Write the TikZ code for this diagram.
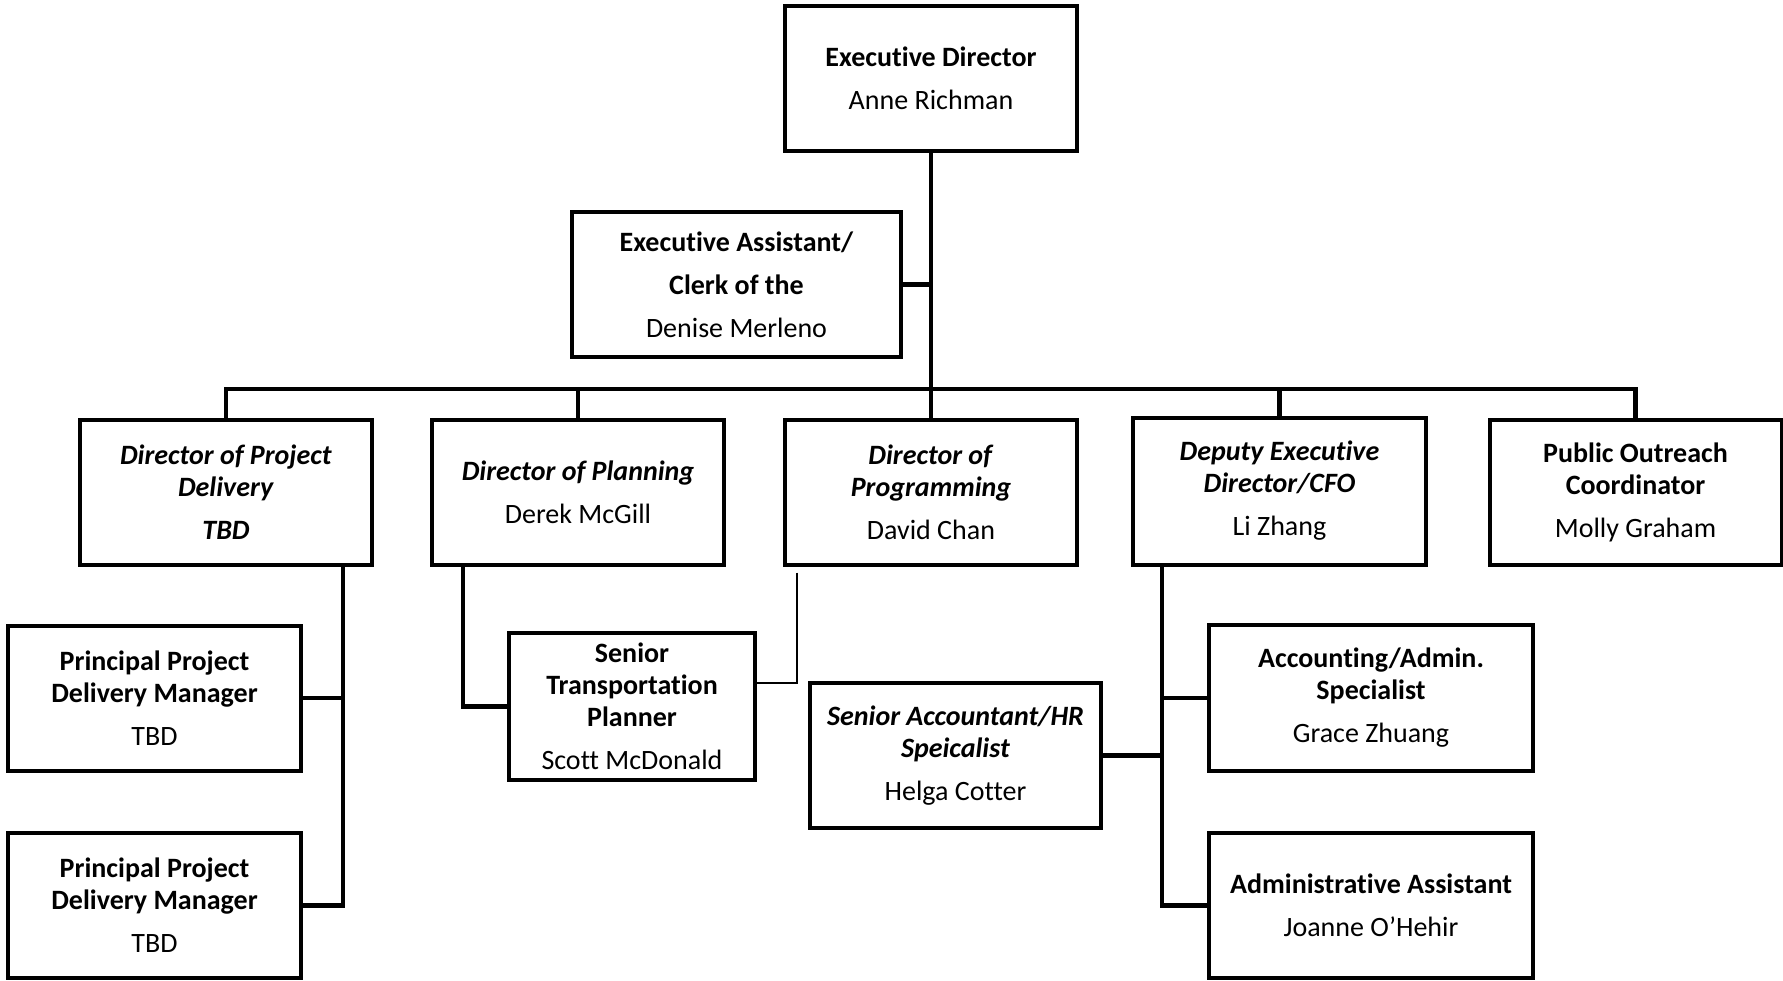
\documentclass[tikz,border=0pt]{standalone}
\usepackage{fontspec}
\setmainfont[Ligatures=NoCommon]{Carlito}
\usetikzlibrary{positioning}

\newcommand{\ttl}[1]{\textbf{#1}}
\newcommand{\ttli}[1]{\textbf{\textit{#1}}}

\tikzset{
  post/.style={draw,line width=4pt,align=center,inner sep=0pt,
    minimum width=292pt,minimum height=145pt,
    font=\fontsize{28}{32}\selectfont},
  link/.style={line width=4.5pt},
  thinlink/.style={line width=2pt}
}

\begin{document}
\begin{tikzpicture}[x=1pt,y=-1pt]
\useasboundingbox (0,0) rectangle (1783,980);

% top of the chart
\node[post] (ed) at (931,78) {\ttl{Executive Director}\\[11pt]Anne Richman};
\node[post,minimum width=329pt] (ea) at (736.5,284.5)
  {\ttl{Executive Assistant/}\\[11pt]\ttl{Clerk of the}\\[11pt]Denise Merleno};

% directors
\node[post] (dpd) at (226,492) {\ttli{Director of Project}\\\ttli{Delivery}\\[11pt]\ttli{TBD}};
\node[post] (plan) at (578,492) {\ttli{Director of Planning}\\[11pt]Derek McGill};
\node[post] (prog) at (931,492) {\ttli{Director of}\\\ttli{Programming}\\[11pt]David Chan};
\node[post,minimum width=293pt,minimum height=147pt] (dep) at (1279.5,491)
  {\ttli{Deputy Executive}\\\ttli{Director/CFO}\\[11pt]Li Zhang};
\node[post] (pub) at (1635.5,492) {\ttl{Public Outreach}\\\ttl{Coordinator}\\[11pt]Molly Graham};

% staff
\node[post,minimum width=293pt] (pm1) at (154.5,698) {\ttl{Principal Project}\\\ttl{Delivery Manager}\\[11pt]TBD};
\node[post,minimum width=293pt] (pm2) at (154.5,905.5) {\ttl{Principal Project}\\\ttl{Delivery Manager}\\[11pt]TBD};
\node[post,minimum width=246pt,minimum height=147pt] (stp) at (632,706.5)
  {\ttl{Senior}\\\ttl{Transportation}\\\ttl{Planner}\\[11pt]Scott McDonald};
\node[post,minimum width=291pt] (sra) at (955.5,755.5) {\ttli{Senior Accountant/HR}\\\ttli{Speicalist}\\[11pt]Helga Cotter};
\node[post,minimum width=324pt,minimum height=146pt] (acc) at (1371,698)
  {\ttl{Accounting/Admin.}\\\ttl{Specialist}\\[11pt]Grace Zhuang};
\node[post,minimum width=324pt] (adm) at (1371,905.5) {\ttl{Administrative Assistant}\\[11pt]Joanne O'Hehir};

% where the lines run
\coordinate (bus) at (0,389);
\coordinate (pdx) at (343,0);
\coordinate (plx) at (463,0);
\coordinate (pgx) at (797,0);
\coordinate (dpx) at (1162,0);

% connectors
\draw[link] (ed) -- (prog);
\draw[link] (ea.east) -- (ea.east -| ed.south);
\draw[link] (dpd.north) -- (dpd.north |- bus) -| (pub.north);
\draw[link] (plan.north) -- (plan.north |- bus);
\draw[link] (dep.north) -- (dep.north |- bus);

\draw[link] (dpd.south -| pdx) |- (pm2.east);
\draw[link] (pm1.east) -- (pm1.east -| pdx);
\draw[link] (plan.south -| plx) |- (stp.west);
\draw[thinlink] ([yshift=-6pt]prog.south -| pgx) |- ([yshift=23.5pt]stp.east);

\draw[link] (dep.south -| dpx) |- (adm.west);
\draw[link] (acc.west) -- (acc.west -| dpx);
\draw[link] (sra.east) -- (sra.east -| dpx);
\end{tikzpicture}
\end{document}
